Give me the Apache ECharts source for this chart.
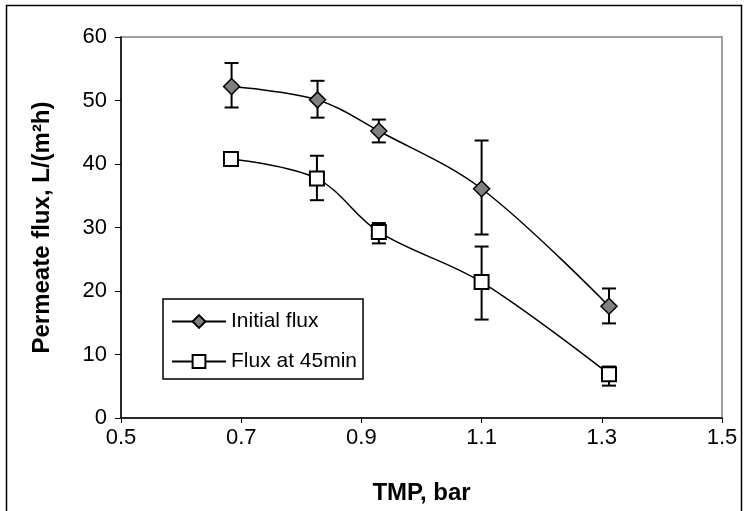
<!DOCTYPE html>
<html>
<head>
<meta charset="utf-8">
<script src="https://cdn.jsdelivr.net/npm/echarts@6/dist/echarts.min.js"></script>
<style>
  html, body { margin: 0; padding: 0; background: #fff; }
  #chart { width: 744px; height: 511px; }
</style>
</head>
<body>
<div id="chart"></div>
<script>
// TMP (bar) for each measurement
const tmpInitial = [0.684, 0.827, 0.929, 1.100, 1.312];
const tmp45 = [0.683, 0.826, 0.929, 1.100, 1.312];

// permeate flux values, L/(m2h)
const initialFlux = [52.2, 50.1, 45.2, 36.1, 17.6];
const initialLow = [48.9, 47.3, 43.4, 28.9, 14.9];
const initialHigh = [55.9, 53.1, 47.0, 43.7, 20.4];

const flux45 = [40.8, 37.7, 29.3, 21.4, 6.9];
const flux45Low = [40.3, 34.3, 27.5, 15.5, 5.1];
const flux45High = [41.3, 41.3, 30.7, 27.0, 8.1];

const xTicks = [0.5, 0.7, 0.9, 1.1, 1.3, 1.5];
const yTicks = [0, 10, 20, 30, 40, 50, 60];

const FONT = '"Liberation Sans", Arial, sans-serif';

const chart = echarts.init(document.getElementById('chart'));

const pairs = (xs, ys) => xs.map((x, i) => [x, ys[i]]);
const bars = (xs, lo, hi) => xs.map((x, i) => [x, lo[i], hi[i]]);

// vertical error bar with caps
function renderErrorBar(params, api) {
  const top = api.coord([api.value(0), api.value(2)]);
  const bottom = api.coord([api.value(0), api.value(1)]);
  const half = 7;
  const style = { stroke: '#000', lineWidth: 2 };
  return {
    type: 'group',
    children: [
      { type: 'line', shape: { x1: top[0], y1: top[1], x2: bottom[0], y2: bottom[1] }, style },
      { type: 'line', shape: { x1: top[0] - half, y1: top[1], x2: top[0] + half, y2: top[1] }, style },
      { type: 'line', shape: { x1: bottom[0] - half, y1: bottom[1], x2: bottom[0] + half, y2: bottom[1] }, style }
    ]
  };
}

const option = {
  animation: false,
  backgroundColor: '#fff',
  graphic: [{
    type: 'rect',
    shape: { x: 6.5, y: 5.5, width: 735, height: 510 },
    style: { fill: 'none', stroke: '#000', lineWidth: 1.5 },
    silent: true
  }],
  grid: {
    left: 121,
    right: 22,
    top: 37,
    bottom: 93,
    show: true,
    borderColor: '#808080',
    borderWidth: 1.5
  },
  legend: {
    left: 163,
    top: 299,
    orient: 'vertical',
    padding: [12, 6, 7, 8],
    itemWidth: 54,
    itemHeight: 16,
    itemGap: 19,
    borderColor: '#000',
    borderWidth: 1.5,
    borderRadius: 0,
    backgroundColor: '#fff',
    textStyle: { fontFamily: FONT, fontSize: 21, color: '#000', padding: [0, 0, 0, 0] },
    data: ['Initial flux', 'Flux at 45min']
  },
  xAxis: {
    type: 'value',
    min: 0.5,
    max: 1.5,
    interval: 0.2,
    name: 'TMP, bar',
    nameLocation: 'middle',
    nameGap: 63,
    nameTextStyle: { fontFamily: FONT, fontSize: 24, fontWeight: 'bold', color: '#000' },
    axisLine: { onZero: false, lineStyle: { color: '#000', width: 1.5 } },
    axisTick: { show: true, length: 5, lineStyle: { color: '#000' } },
    axisLabel: {
      margin: 9,
      fontFamily: FONT, fontSize: 22, color: '#000',
      formatter: v => xTicks.find(t => Math.abs(t - v) < 1e-6).toFixed(1)
    },
    splitLine: { show: false }
  },
  yAxis: {
    type: 'value',
    min: 0,
    max: 60,
    interval: 10,
    name: 'Permeate flux, L/(m²h)',
    nameLocation: 'middle',
    nameGap: 67,
    nameTextStyle: { fontFamily: FONT, fontSize: 24, fontWeight: 'bold', color: '#000' },
    axisLine: { show: true, lineStyle: { color: '#000', width: 1.5 } },
    axisTick: { show: true, length: 6, lineStyle: { color: '#000' } },
    axisLabel: {
      margin: 14,
      fontFamily: FONT, fontSize: 22, color: '#000',
      formatter: v => String(yTicks.find(t => t === v))
    },
    splitLine: { show: false }
  },
  series: [
    {
      name: 'Initial flux',
      type: 'line',
      data: pairs(tmpInitial, initialFlux),
      smooth: 0.35,
      symbol: 'diamond',
      symbolSize: 16,
      lineStyle: { color: '#000', width: 1.5 },
      itemStyle: { color: '#808080', borderColor: '#000', borderWidth: 1.5 },
      z: 3
    },
    {
      name: 'Flux at 45min',
      type: 'line',
      data: pairs(tmp45, flux45),
      smooth: 0.35,
      symbol: 'rect',
      symbolSize: 14,
      lineStyle: { color: '#000', width: 1.5 },
      itemStyle: { color: '#fff', borderColor: '#000', borderWidth: 2 },
      z: 3
    },
    {
      name: 'Initial flux error',
      type: 'custom',
      renderItem: renderErrorBar,
      data: bars(tmpInitial, initialLow, initialHigh),
      encode: { x: 0, y: [1, 2] },
      z: 2
    },
    {
      name: 'Flux at 45min error',
      type: 'custom',
      renderItem: renderErrorBar,
      data: bars(tmp45, flux45Low, flux45High),
      encode: { x: 0, y: [1, 2] },
      z: 2
    }
  ]
};

chart.setOption(option);
</script>
</body>
</html>
